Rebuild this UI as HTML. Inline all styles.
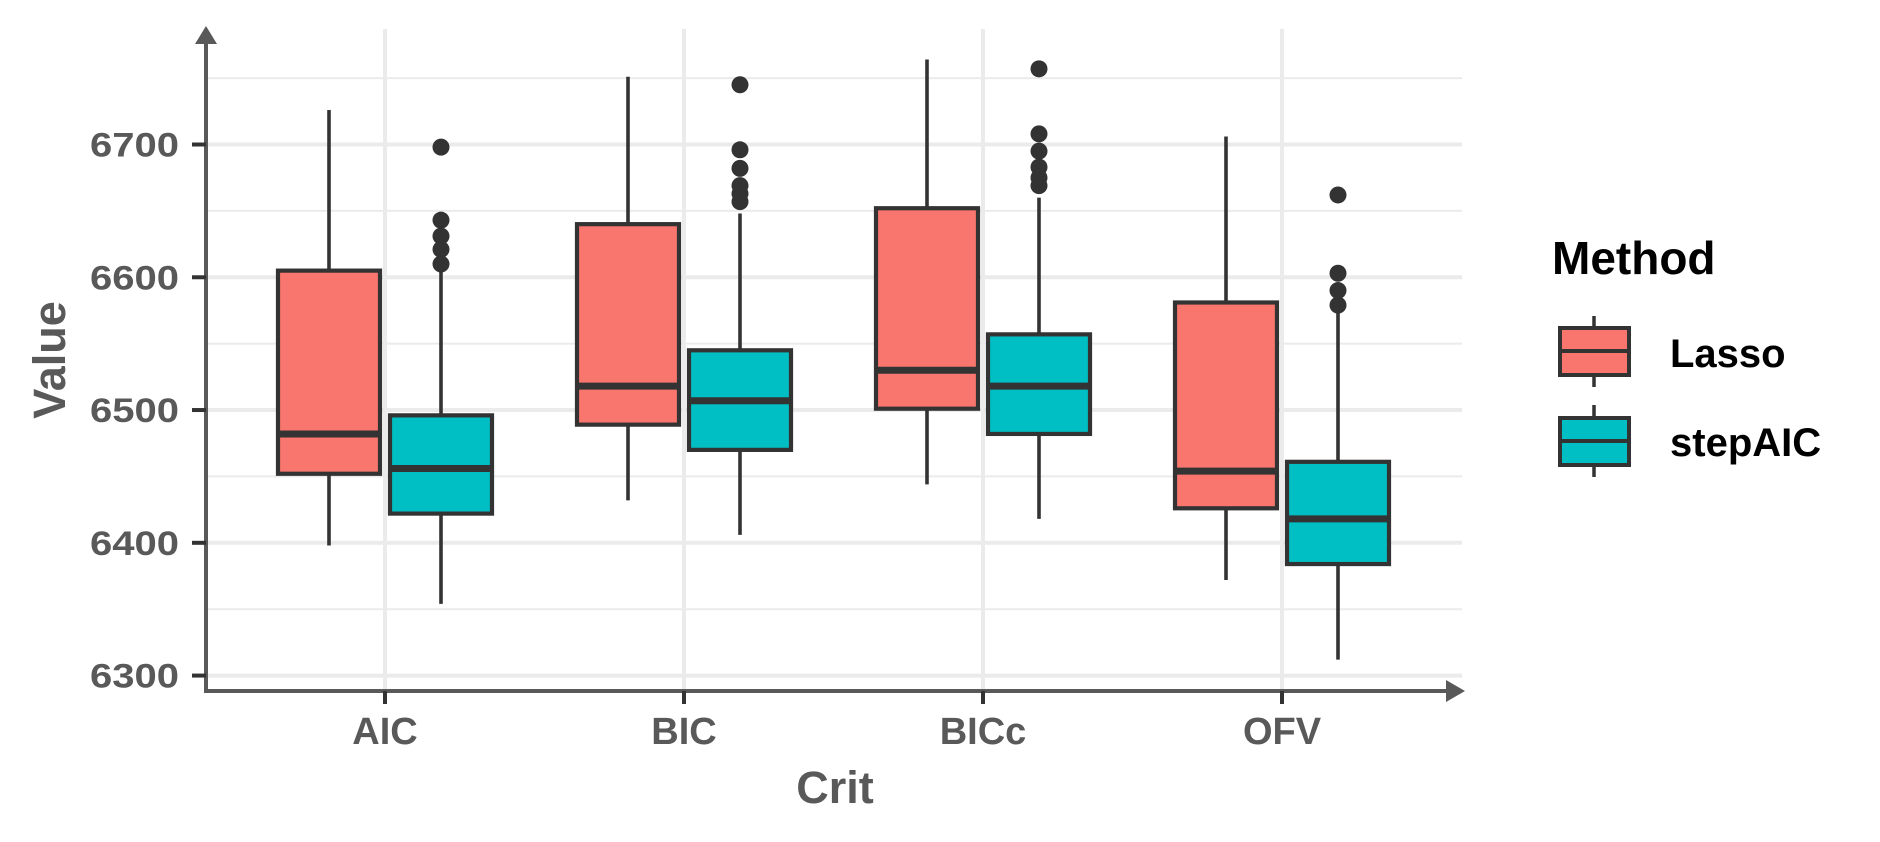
<!DOCTYPE html>
<html><head><meta charset="utf-8"><style>html,body{margin:0;padding:0;background:#fff}svg{display:block}</style></head>
<body>
<svg id="chart" width="1880" height="842" xmlns="http://www.w3.org/2000/svg" font-family="Liberation Sans, sans-serif" font-weight="bold"></svg>
<script>
const categories = ["AIC","BIC","BICc","OFV"];
const methods = ["Lasso","stepAIC"];
const colors = ["#F8766D","#00BFC4"];
// [lowerWhisker, q1, median, q3, upperWhisker]
const lassoStats = [[6398,6452,6482,6605,6726],[6432,6489,6518,6640,6751],[6444,6501,6530,6652,6764],[6372,6426,6454,6581,6706]];
const stepStats = [[6354,6422,6456,6496,6604],[6406,6470,6507,6545,6648],[6418,6482,6518,6557,6660],[6312,6384,6418,6461,6573]];
const lassoOutliers = [[],[],[],[]];
const stepOutliers = [[6698,6643,6631,6621,6610],[6745,6696,6682,6669,6663,6657],[6757,6708,6695,6683,6675,6669],[6662,6603,6590,6579]];
const yTicks = [6300,6400,6500,6600,6700];
const yMinor = [6350,6450,6550,6650,6750];

const svg = document.getElementById('chart');
const NS = "http://www.w3.org/2000/svg";
const X0 = 206, Y0 = 691, XR = 1462, YT = 29;
const yScale = v => 144.5 + (6700 - v) * 1.3277;
const xScale = i => 385 + i * 299;
const dodge = [-56, 56], BW = 102;
function mk(tag, attrs, parent) { const e = document.createElementNS(NS, tag); for (const k in attrs) e.setAttribute(k, attrs[k]); (parent || svg).appendChild(e); return e; }

const grid = mk('g', {});  
yMinor.forEach(v => { mk('line', {x1: X0, x2: XR, y1: yScale(v), y2: yScale(v), stroke: '#ebebeb', 'stroke-width': 2}, grid); });
yTicks.forEach(v => { mk('line', {x1: X0, x2: XR, y1: yScale(v), y2: yScale(v), stroke: '#ebebeb', 'stroke-width': 4}, grid); });
categories.forEach((c, i) => { mk('line', {x1: xScale(i), x2: xScale(i), y1: YT, y2: Y0, stroke: '#ebebeb', 'stroke-width': 4}, grid); });

const statsAll = [lassoStats, stepStats], outAll = [lassoOutliers, stepOutliers];
categories.forEach((c, i) => {
  methods.forEach((m, j) => {
    const s = statsAll[j][i], cx = xScale(i) + dodge[j];
    const g = mk('g', {});
    
    
    mk('line', {x1: cx, x2: cx, y1: yScale(s[0]), y2: yScale(s[1]), stroke: '#333', 'stroke-width': 3.6}, g);
    mk('line', {x1: cx, x2: cx, y1: yScale(s[3]), y2: yScale(s[4]), stroke: '#333', 'stroke-width': 3.6}, g);
    mk('rect', {x: cx - BW / 2, y: yScale(s[3]), width: BW, height: yScale(s[1]) - yScale(s[3]), fill: colors[j], stroke: '#333', 'stroke-width': 4.2}, g);
    mk('line', {x1: cx - BW / 2, x2: cx + BW / 2, y1: yScale(s[2]), y2: yScale(s[2]), stroke: '#333', 'stroke-width': 7}, g);
    outAll[j][i].forEach(v => {
      const p = mk('circle', {cx: cx, cy: yScale(v), r: 8.5, fill: '#333'}, g);
      
      
    });
  });
});

const ax = mk('g', {});  
mk('line', {x1: X0, x2: X0, y1: 42, y2: Y0 + 2, stroke: '#595959', 'stroke-width': 4}, ax);
mk('polygon', {points: `${X0-11},44 ${X0},26 ${X0+11},44`, fill: '#595959'}, ax);
mk('line', {x1: X0 - 2, x2: 1448, y1: Y0, y2: Y0, stroke: '#595959', 'stroke-width': 4}, ax);
mk('polygon', {points: `1446,${Y0-11} 1465,${Y0} 1446,${Y0+11}`, fill: '#595959'}, ax);
yTicks.forEach(v => {
  mk('line', {x1: 192, x2: X0, y1: yScale(v), y2: yScale(v), stroke: '#333', 'stroke-width': 4}, ax);
  const t = mk('text', {x: 179, y: yScale(v) + 12, 'text-anchor': 'end', 'font-size': 34, fill: '#595959', textLength: 89, lengthAdjust: 'spacingAndGlyphs'}, ax);
  t.textContent = v;
  
  
});
categories.forEach((c, i) => {
  mk('line', {x1: xScale(i), x2: xScale(i), y1: Y0, y2: 704, stroke: '#333', 'stroke-width': 4}, ax);
  const t = mk('text', {x: xScale(i), y: 744, 'text-anchor': 'middle', 'font-size': 38, fill: '#595959'}, ax);
  t.textContent = c;
  
  
});
</script>
<svg style="position:absolute;left:0;top:0" width="1880" height="842" xmlns="http://www.w3.org/2000/svg" font-family="Liberation Sans, sans-serif" font-weight="bold">
  <text x="835" y="803" text-anchor="middle" font-size="45" fill="#595959">Crit</text>
  <text transform="translate(65,360) rotate(-90)" text-anchor="middle" font-size="45" fill="#595959">Value</text>
  <g>
    <text x="1552" y="274" font-size="46" fill="#000">Method</text>
    <g>
      <line x1="1594" x2="1594" y1="316" y2="387" stroke="#333" stroke-width="3.5"/>
      <rect x="1560" y="328" width="69" height="47" fill="#F8766D" stroke="#333" stroke-width="4"/>
      <line x1="1560" x2="1629" y1="351" y2="351" stroke="#333" stroke-width="4"/>
      <text x="1670" y="367" font-size="40" fill="#000">Lasso</text>
    </g>
    <g>
      <line x1="1594" x2="1594" y1="405" y2="477" stroke="#333" stroke-width="3.5"/>
      <rect x="1560" y="418" width="69" height="47" fill="#00BFC4" stroke="#333" stroke-width="4"/>
      <line x1="1560" x2="1629" y1="441" y2="441" stroke="#333" stroke-width="4"/>
      <text x="1670" y="456" font-size="40" fill="#000">stepAIC</text>
    </g>
  </g>
</svg>
</body></html>
